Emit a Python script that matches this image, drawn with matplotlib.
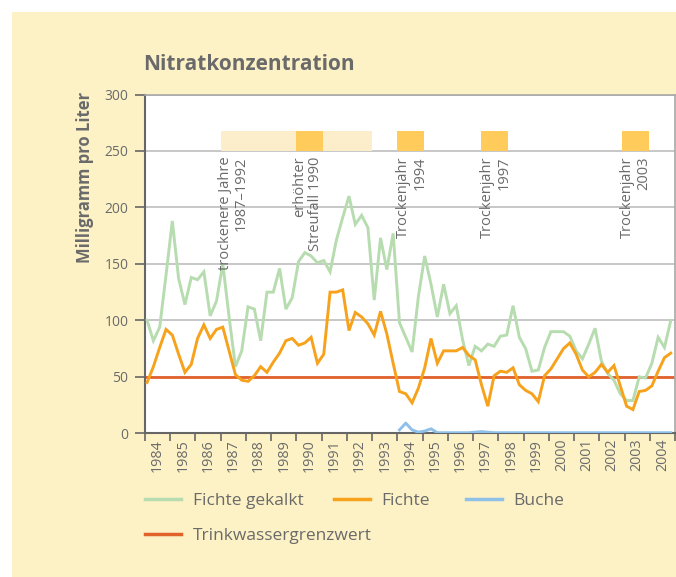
import numpy as np
import matplotlib
matplotlib.use("Agg")
import matplotlib.pyplot as plt
from matplotlib.lines import Line2D
from matplotlib.patches import Rectangle

plt.rcParams["font.family"] = ["Open Sans", "DejaVu Sans"]

# quarterly nitrate values (mg/l), 1984 Q1 .. 2004 Q4
fichte_gekalkt = [
    100, 82, 94, 140,
    188, 137, 114, 138,
    136, 143, 104, 117,
    150, 103, 59, 73,
    112, 110, 82, 125,
    125, 146, 110, 120,
    152, 160, 157, 151,
    153, 143, 171, 191,
    210, 185, 193, 182,
    118, 173, 145, 177,
    98, 85, 72, 121,
    157, 132, 103, 132,
    106, 113, 83, 60,
    77, 73, 79, 77,
    86, 87, 113, 85,
    75, 55, 56, 76,
    90, 90, 90, 86,
    73, 66, 79, 93,
    64, 53, 47, 35,
    29, 29, 50, 49,
    62, 85, 76, 100,
]
fichte = [
    45, 59, 76, 92,
    87, 70, 54, 61,
    84, 96, 84, 92,
    94, 73, 52, 47,
    46, 51, 59, 54,
    63, 71, 82, 84,
    78, 80, 85, 62,
    70, 125, 125, 127,
    91, 107, 103, 97,
    87, 108, 88, 62,
    37, 35, 27, 40,
    58, 84, 62, 73,
    73, 73, 76, 69,
    65, 43, 24, 51,
    55, 54, 58, 43,
    38, 35, 28, 51,
    57, 66, 75, 80,
    70, 56, 50, 54,
    61, 54, 60, 42,
    24, 21, 37, 38,
    42, 55, 67, 71,
]
# Buche measured from 1994 Q1 on
buche_first_quarter = 40
buche = [
    3, 9, 3, 1,
    2, 4, 0.5, 0.5,
    0.5, 0.5, 0.5, 0.5,
    1, 1.5, 1, 0.5,
    0.5, 0.5, 0.5, 0.5,
    0.5, 0.5, 0.5, 0.5,
    0.5, 0.5, 0.5, 0.5,
    0.5, 0.5, 0.5, 0.5,
    0.5, 0.5, 0.5, 0.5,
    0.5, 0.5, 0.5, 0.5,
    0.5, 0.5, 0.5, 0.5,
]
grenzwert = 50

years = list(range(1984, 2005))

# dry-year markers on top of the chart
dry_period_start, dry_period_end = 1987, 1993
event_starts = [1990, 1994, 1997.3, 2002.9]
event_labels = [
    "erhöhter\nStreufall 1990",
    "Trockenjahr\n1994",
    "Trockenjahr\n1997",
    "Trockenjahr\n2003",
]
dry_period_label = "trockenere Jahre\n1987–1992"

YELLOW = "#fdf2c6"
LIGHT = "#fdeecb"
DARK = "#ffcb5a"
GREEN = "#b6dcaf"
ORANGE = "#f7a21c"
BLUE = "#8fc0e8"
RED = "#e2622c"
TEXT = "#6a6a6a"
AXIS = "#666666"
GRID = "#bdbdbd"

fig = plt.figure(figsize=(6.76, 5.77), dpi=100)
fig.patch.set_facecolor("white")
fig.add_artist(Rectangle((12 / 676, 0), 1, 1 - 12 / 577, transform=fig.transFigure,
                         facecolor=YELLOW, edgecolor="none", zorder=-10))

ax = fig.add_axes([145 / 676, (577 - 433.3) / 577, 530 / 676, (433.3 - 94.5) / 577])
ax.set_facecolor("white")

q = np.arange(len(fichte_gekalkt))
t = 1984 + (q + 0.33) / 4
qb = np.arange(buche_first_quarter, buche_first_quarter + len(buche))
tb = 1984 + (qb + 0.33) / 4

ax.axhline(grenzwert, color=RED, lw=2, zorder=2)
ax.plot(t, fichte_gekalkt, color=GREEN, lw=2.1, zorder=3, solid_joinstyle="miter")
ax.plot(t, fichte, color=ORANGE, lw=2.1, zorder=4, solid_joinstyle="miter")
ax.plot(tb, buche, color=BLUE, lw=2.1, zorder=3)

# marker bars
ax.bar(dry_period_start, 18, width=dry_period_end - dry_period_start, bottom=250,
       align="edge", color=LIGHT, zorder=2)
ax.bar(event_starts, [18] * len(event_starts), width=1.07, bottom=250,
       align="edge", color=DARK, zorder=2)

ann_x = [1987.5, 1990.44, 1994.56, 1997.9, 2003.43]
for x, lab in zip(ann_x, [dry_period_label] + event_labels):
    ax.text(x, 245, lab, rotation=90, ha="center", va="top", multialignment="right",
            fontsize=10.5, color=TEXT, linespacing=1.15, zorder=5)

ax.set_xlim(1984, 2005)
ax.set_ylim(0, 300)
ax.set_yticks(range(0, 301, 50))
ax.grid(axis="y", color=GRID, lw=1.2)
ax.set_axisbelow(True)

ax.set_xticks(range(1984, 2006))
ax.set_xticklabels([])
ax.set_xticks(np.array(years) + 0.5, minor=True)
ax.set_xticklabels([str(y) for y in years], minor=True)
ax.tick_params(axis="x", which="major", length=6, width=1.2, color=AXIS)
ax.tick_params(axis="x", which="minor", length=0, labelrotation=90, pad=4,
               labelsize=10.3, labelcolor=TEXT)
ax.tick_params(axis="y", length=7, width=1.2, color=AXIS, pad=5,
               labelsize=10, labelcolor=TEXT)

for s in ("left", "bottom"):
    ax.spines[s].set_color(AXIS)
    ax.spines[s].set_linewidth(1.5)
for s in ("top", "right"):
    ax.spines[s].set_color("#a8a8a8")
    ax.spines[s].set_linewidth(1.2)

fig.text(143 / 676, 1 - 64 / 577, "Nitratkonzentration", fontsize=15,
         fontweight="bold", color=TEXT, ha="left", va="center")
fig.text(85 / 676, 1 - 92 / 577, "Milligramm pro Liter", rotation=90, fontsize=12,
         fontweight="bold", color=TEXT, ha="center", va="top")

# legend: one entry per slot, laid out in two rows
legend_entries = [
    (GREEN, "Fichte gekalkt", 145, 501),
    (ORANGE, "Fichte", 334, 501),
    (BLUE, "Buche", 466, 501),
    (RED, "Trinkwassergrenzwert", 145, 536),
]
for color, label, px, py in legend_entries:
    fig.legend([Line2D([], [], color=color, lw=2.5)], [label], loc="center left",
               bbox_to_anchor=(px / 676, 1 - py / 577), frameon=False, fontsize=12.5,
               handlelength=2.1, handletextpad=0.65, borderpad=0, borderaxespad=0,
               labelcolor=TEXT)

fig.savefig("out.png", dpi=100)
